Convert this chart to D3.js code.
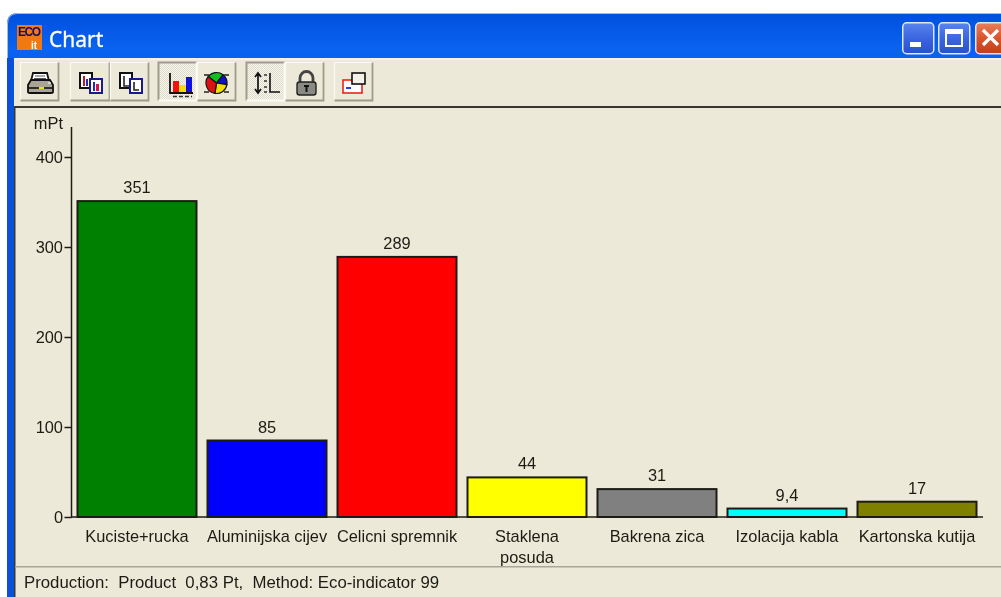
<!DOCTYPE html>
<html>
<head>
<meta charset="utf-8">
<script src="https://cdn.jsdelivr.net/npm/d3@7"></script>
<style>
html,body{margin:0;padding:0;background:#fff;overflow:hidden}
svg{display:block;filter:blur(0.35px)}
text{font-family:"Liberation Sans",Arial,sans-serif}
</style>
</head>
<body>
<div id="chart"></div>
<script>
// chart values
const categories=["Kuciste+rucka","Aluminijska cijev","Celicni spremnik","Staklena posuda","Bakrena zica","Izolacija kabla","Kartonska kutija"];
const values=[351,85,289,44,31,9.4,17];
const valueLabels=["351","85","289","44","31","9,4","17"];
const barColors=["#008000","#0000ff","#ff0000","#ffff00","#808080","#00ffff","#808000"];
const yTicks=[0,100,200,300,400];
const unit="mPt";
const statusText="Production:  Product  0,83 Pt,  Method: Eco-indicator 99";

const W=1001,H=597;
const FACE="#ece9d8",INK="#1c1c14";

const svg=d3.select("#chart").append("svg").attr("width",W).attr("height",H);
const defs=svg.append("defs");

function vGrad(id,stops){
  const g=defs.append("linearGradient").attr("id",id).attr("x1",0).attr("x2",0).attr("y1",0).attr("y2",1);
  stops.forEach(([o,c])=>g.append("stop").attr("offset",o).attr("stop-color",c));
}
vGrad("title-grad",[["0","#0050dc"],["0.06","#0a62f0"],["0.2","#0058ea"],["0.55","#0050e0"],["0.85","#0056e8"],["1","#0046c4"]]);
vGrad("btn-blue",[["0","#5a84ee"],["0.5","#3a66e0"],["1","#2a50cc"]]);
vGrad("btn-red",[["0","#e8805c"],["0.5","#d9552c"],["1","#c23f1c"]]);

// dither used on the pressed toolbar buttons
const dither=defs.append("pattern").attr("id","dither").attr("width",2).attr("height",2).attr("patternUnits","userSpaceOnUse");
dither.append("rect").attr("width",2).attr("height",2).attr("fill","#f8f7f0");
dither.append("rect").attr("width",1).attr("height",1).attr("fill","#dcd9c8");
dither.append("rect").attr("x",1).attr("y",1).attr("width",1).attr("height",1).attr("fill","#dcd9c8");

// window frame
svg.append("path")
  .attr("d",`M7,${H} V24 Q7,13 18,13 H${W} V${H} Z`)
  .attr("fill","url(#title-grad)");
svg.append("path")
  .attr("d",`M7.5,${H} V24 Q7.5,13.5 18,13.5 H${W}`)
  .attr("fill","none").attr("stroke","#a8bce0").attr("stroke-width",1);
svg.append("rect").attr("x",7).attr("y",58).attr("width",7).attr("height",H-58).attr("fill","#0b50d8");
svg.append("rect").attr("x",14).attr("y",59).attr("width",W-14).attr("height",H-59).attr("fill",FACE);
svg.append("rect").attr("x",14).attr("y",58).attr("width",W-14).attr("height",2).attr("fill","#f4f2e8");

// title bar
const ico=svg.append("g").attr("transform","translate(17,25)");
ico.append("rect").attr("width",25).attr("height",25).attr("fill","#f07a10");
ico.append("text").attr("x",12.5).attr("y",11).attr("text-anchor","middle")
  .attr("fill","#10106a").style("font-size","12px").style("font-weight","700").attr("textLength",23).text("ECO");
ico.append("text").attr("x",14).attr("y",24).attr("fill","#fff")
  .style("font-size","10px").style("font-weight","700").text("it");
svg.append("text").attr("x",49).attr("y",47).attr("fill","#fff")
  .style("font-size","21px").style("font-weight","400")
  .style("font-family","'Noto Sans','DejaVu Sans',sans-serif")
  .attr("stroke","#fff").attr("stroke-width",0.3)
  .text("Chart");

function capButton(x,fill){
  const g=svg.append("g").attr("transform",`translate(${x},22)`);
  g.append("rect").attr("x",0.75).attr("y",0.75).attr("width",31).attr("height",31).attr("rx",4)
    .attr("fill",fill).attr("stroke","#dfe6f6").attr("stroke-width",1.5);
  return g;
}
capButton(902,"url(#btn-blue)")
  .append("rect").attr("x",8).attr("y",20).attr("width",11).attr("height",5).attr("fill","#fff");
const maxB=capButton(938,"url(#btn-blue)");
maxB.append("rect").attr("x",8).attr("y",8).attr("width",16).attr("height",16)
  .attr("fill","none").attr("stroke","#fff").attr("stroke-width",2);
maxB.append("rect").attr("x",8).attr("y",8).attr("width",16).attr("height",4).attr("fill","#fff");
const closeB=capButton(975,"url(#btn-red)");
closeB.append("path").attr("d","M8,8 L23,23 M23,8 L8,23")
  .attr("stroke","#fff").attr("stroke-width",3.2).attr("fill","none");

// toolbar buttons
function toolButton(x,w,pressed){
  const g=svg.append("g").attr("transform",`translate(${x},62)`);
  g.append("rect").attr("width",w).attr("height",39).attr("fill",pressed?"url(#dither)":FACE);
  g.append("path").attr("d",`M0.5,38.5 V0.5 H${w-0.5}`).attr("fill","none")
    .attr("stroke",pressed?"#a09c8c":"#fbfaf5").attr("stroke-width",pressed?2:1.2);
  g.append("path").attr("d",`M${w-0.5},0.5 V38.5 H0.5`).attr("fill","none")
    .attr("stroke",pressed?"#fbfaf5":"#a09c8c").attr("stroke-width",1.8);
  return g;
}
// printer
const pr=toolButton(20,39,false);
pr.append("path").attr("d","M13,11 L27,11 L29,19 L11,19 Z").attr("fill","#fff").attr("stroke","#111").attr("stroke-width",1.8);
pr.append("path").attr("d","M15,14 H25 M14,16.5 H26").attr("stroke","#555").attr("stroke-width",1);
pr.append("path").attr("d","M8,23 L11,18 H30 L33,23 V30 Q33,31 31,31 H10 Q8,31 8,30 Z").attr("fill","#a8a498").attr("stroke","#111").attr("stroke-width",1.8);
pr.append("path").attr("d","M8,26 H33").attr("stroke","#111").attr("stroke-width",1.6);
pr.append("rect").attr("x",19).attr("y",25).attr("width",5).attr("height",2).attr("fill","#f0e020");
pr.append("path").attr("d","M28,21 H31").attr("stroke","#eee").attr("stroke-width",1.4);
// copy icons
function copyIcon(g,colored){
  g.append("rect").attr("x",10).attr("y",11).attr("width",12).attr("height",15).attr("fill","#fff").attr("stroke","#111").attr("stroke-width",2);
  g.append("rect").attr("x",20).attr("y",17).attr("width",12).attr("height",14).attr("fill","#fff").attr("stroke","#1a1a90").attr("stroke-width",2);
  if(colored){
    g.append("rect").attr("x",13).attr("y",14).attr("width",2).attr("height",10).attr("fill","#d01030");
    g.append("rect").attr("x",16).attr("y",17).attr("width",2).attr("height",7).attr("fill","#1a30c0");
    g.append("rect").attr("x",23).attr("y",20).attr("width",2).attr("height",9).attr("fill","#1a30c0");
    g.append("rect").attr("x",26).attr("y",22).attr("width",3).attr("height",7).attr("fill","#e01040");
  }else{
    g.append("path").attr("d","M14,14 V24 H19 M24,20 V28 H29").attr("stroke","#222").attr("stroke-width",1.6).attr("fill","none");
  }
}
copyIcon(toolButton(70,40,false),true);
copyIcon(toolButton(110,39,false),false);
// bar chart toggle
const bb=toolButton(158,39,true);
bb.append("rect").attr("x",15).attr("y",19).attr("width",6).attr("height",12).attr("fill","#f01010");
bb.append("rect").attr("x",21).attr("y",23).attr("width",7).attr("height",8).attr("fill","#f0e000");
bb.append("rect").attr("x",28).attr("y",15).attr("width",6).attr("height",16).attr("fill","#1010e0");
bb.append("path").attr("d","M12,11 V31 H35").attr("fill","none").attr("stroke","#111").attr("stroke-width",1.8);
bb.append("path").attr("d","M15,34.5 H34").attr("stroke","#333").attr("stroke-width",1.4).attr("stroke-dasharray","4 2");
// pie toggle
const pie=toolButton(197,39,false);
const pieCx=19.5,pieCy=21;
const arc=d3.arc().innerRadius(0).outerRadius(10.5);
d3.pie().sort(null).startAngle(-0.9).endAngle(-0.9+2*Math.PI)([90,60,90,120]).forEach((a,i)=>{
  pie.append("path").attr("transform",`translate(${pieCx},${pieCy})`).attr("d",arc(a))
    .attr("fill",["#10c020","#1010d0","#f0e000","#e01010"][i]).attr("stroke","#111").attr("stroke-width",1.2);
});
pie.append("path").attr("d","M7,13 H12 M27,13 H32 M7,30 H12 M27,30 H32").attr("stroke","#222").attr("stroke-width",1.4);
// axis toggle
const ax=toolButton(246,39,true);
ax.append("path").attr("d","M12,11 V31 M9,15 L12,11 L15,15 M9,27 L12,31 L15,27").attr("fill","none").attr("stroke","#111").attr("stroke-width",1.7);
ax.append("path").attr("d","M24,11 V30 H34").attr("fill","none").attr("stroke","#111").attr("stroke-width",1.6);
ax.append("path").attr("d","M18,13 H21 M18,19 H21 M18,25 H21 M18,30 H21").attr("stroke","#333").attr("stroke-width",1.4);
// padlock
const lock=toolButton(285,39,false);
lock.append("path").attr("d","M15,20 V16 A6.5,6.5 0 0 1 28,16 V20").attr("fill","none").attr("stroke","#444").attr("stroke-width",2.8);
lock.append("rect").attr("x",12).attr("y",20).attr("width",19).attr("height",13).attr("rx",2.5).attr("fill","#8a8a84").attr("stroke","#222").attr("stroke-width",1.4);
lock.append("path").attr("d","M19,24 H24 M21.5,24 V30").attr("stroke","#111").attr("stroke-width",2);
// window icon
const win=toolButton(334,39,false);
win.append("rect").attr("x",9).attr("y",18).attr("width",19).attr("height",13).attr("fill","#fff").attr("stroke","#f02020").attr("stroke-width",1.6);
win.append("rect").attr("x",18).attr("y",11).attr("width",13).attr("height",11).attr("fill","#f4f2e8").attr("stroke","#111").attr("stroke-width",1.6);
win.append("rect").attr("x",12).attr("y",25).attr("width",5).attr("height",2).attr("fill","#2040e0");

// chart panel
svg.append("rect").attr("x",14).attr("y",106).attr("width",W-14).attr("height",2).attr("fill","#3a382e");
svg.append("rect").attr("x",14).attr("y",107).attr("width",1.5).attr("height",H-107).attr("fill","#3a382e");

const x=d3.scaleBand().domain(categories).range([72.5,982.5]).paddingInner(11/130).paddingOuter(5.5/130);
const y=d3.scaleLinear().domain([0,400]).range([517,157]);
const FS="16.4px";

const plot=svg.append("g");
// bars first, axes sit on top of their feet
plot.selectAll("rect.bar").data(categories).join("rect").attr("class","bar")
  .attr("x",d=>x(d)-0.5).attr("width",x.bandwidth())
  .attr("y",(d,i)=>y(values[i])).attr("height",(d,i)=>y(0)-y(values[i]))
  .attr("fill",(d,i)=>barColors[i]).attr("stroke",INK).attr("stroke-width",2);

plot.selectAll("text.val").data(categories).join("text").attr("class","val")
  .attr("x",d=>x(d)+x.bandwidth()/2-0.5).attr("y",(d,i)=>y(values[i])-8)
  .attr("text-anchor","middle").attr("fill",INK).style("font-size",FS)
  .text((d,i)=>valueLabels[i]);

const yAxis=d3.axisLeft(y).tickValues(yTicks).tickSize(7).tickPadding(1.5).tickFormat(d3.format("d"));
const yG=plot.append("g").attr("transform","translate(71.5,0)").call(yAxis);
yG.select(".domain").remove();
yG.selectAll("line").attr("stroke",INK).attr("stroke-width",1.5);
yG.selectAll("text").attr("fill",INK).style("font-size",FS).style("font-family","'Liberation Sans',Arial,sans-serif");
plot.append("line").attr("x1",71.5).attr("x2",71.5).attr("y1",127).attr("y2",517.5).attr("stroke",INK).attr("stroke-width",1.5);
plot.append("line").attr("x1",71).attr("x2",983).attr("y1",517).attr("y2",517).attr("stroke",INK).attr("stroke-width",1.5);
plot.append("text").attr("x",63).attr("y",129).attr("text-anchor","end").attr("fill",INK).style("font-size",FS).text(unit);

// category labels, long ones wrap on the space
plot.selectAll("g.cat").data(categories).join("g").attr("class","cat")
  .attr("transform",d=>`translate(${x(d)+x.bandwidth()/2-0.5},0)`)
  .each(function(d){
    const lines=d==="Staklena posuda"?d.split(" "):[d];
    d3.select(this).selectAll("text").data(lines).join("text")
      .attr("y",(l,i)=>542+i*21).attr("text-anchor","middle")
      .attr("fill",INK).style("font-size",FS).text(l=>l);
  });

// status bar
svg.append("rect").attr("x",15).attr("y",566).attr("width",W-15).attr("height",1.5).attr("fill","#a8a698");
svg.append("text").attr("x",24).attr("y",588).attr("fill",INK).style("font-size","16.8px")
  .style("white-space","pre").attr("xml:space","preserve").text(statusText);
</script>
</body>
</html>
